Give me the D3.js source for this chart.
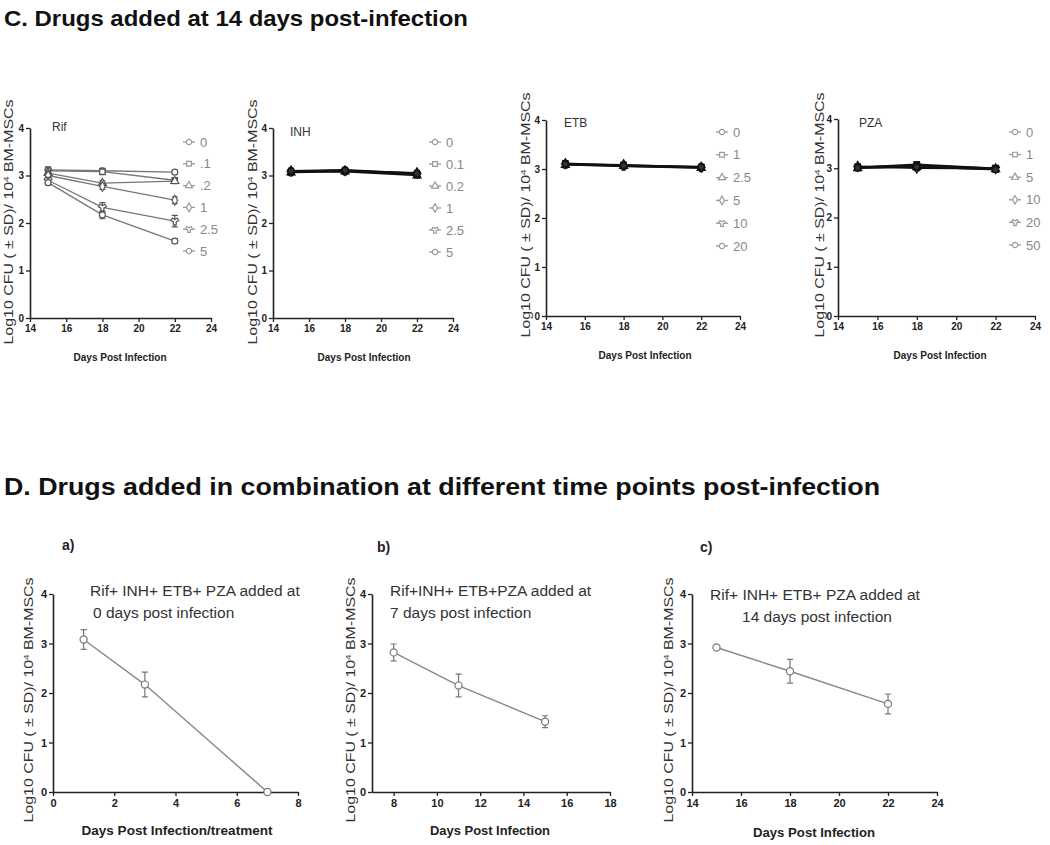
<!DOCTYPE html>
<html>
<head>
<meta charset="utf-8">
<script src="https://cdn.jsdelivr.net/npm/d3@7"></script>
<style>
  body { margin: 0; background: #fff; }
  svg text { font-family: "Liberation Sans", Arial, sans-serif; }
</style>
</head>
<body>
<svg id="chart" width="1050" height="845"></svg>
<script>
// ---- data ----
const daysC = [15, 18, 22];

const rifDoses = ['0', '.1', '.2', '1', '2.5', '5'];
const rifValues = [
  [3.12, 3.10, 3.07],
  [3.10, 3.08, 2.90],
  [3.05, 2.84, 2.88],
  [3.00, 2.77, 2.48],
  [2.90, 2.33, 2.04],
  [2.85, 2.17, 1.62]
];
const rifErr = [
  [0.06, 0.05, 0.04],
  [0.05, 0.06, 0.05],
  [0.06, 0.05, 0.05],
  [0.05, 0.06, 0.07],
  [0.06, 0.10, 0.12],
  [0.05, 0.08, 0.05]
];

const inhDoses = ['0', '0.1', '0.2', '1', '2.5', '5'];
const inhValues = [
  [3.10, 3.12, 3.05],
  [3.08, 3.10, 3.02],
  [3.06, 3.08, 3.00],
  [3.10, 3.10, 3.06],
  [3.07, 3.09, 3.03],
  [3.09, 3.11, 3.04]
];

const etbDoses = ['0', '1', '2.5', '5', '10', '20'];
const etbValues = [
  [3.12, 3.08, 3.05],
  [3.10, 3.07, 3.03],
  [3.08, 3.06, 3.02],
  [3.11, 3.09, 3.04],
  [3.09, 3.05, 3.02],
  [3.10, 3.07, 3.04]
];

const pzaDoses = ['0', '1', '5', '10', '20', '50'];
const pzaValues = [
  [3.03, 3.05, 2.99],
  [3.02, 3.08, 3.00],
  [3.00, 3.02, 2.98],
  [3.04, 3.00, 2.99],
  [3.02, 3.06, 3.00],
  [3.01, 3.03, 2.97]
];

const comboDaysA = [1, 3, 7];
const comboValuesA = [3.08, 2.17, 0];
const comboErrA = [0.2, 0.25, 0];

const comboDaysB = [8, 11, 15];
const comboValuesB = [2.82, 2.15, 1.42];
const comboErrB = [0.17, 0.23, 0.12];

const comboDaysC = [15, 18, 22];
const comboValuesC = [2.92, 2.44, 1.78];
const comboErrC = [0.04, 0.24, 0.2];

const yTicks = [0, 1, 2, 3, 4];
const xTicksC = [14, 16, 18, 20, 22, 24];
const xTicksA = [0, 2, 4, 6, 8];
const xTicksB = [8, 10, 12, 14, 16, 18];

const symbolTypes = [d3.symbolCircle, d3.symbolSquare, d3.symbolTriangle,
  d3.symbolDiamond, d3.symbolWye, d3.symbolCircle];

const svg = d3.select('#chart');
const yTitle = 'Log10 CFU ( \u00b1 SD)/ 10';

/**
 * one small panel: axes, titles, series lines with markers and error bars
 * cfg - box and style for the panel
 * series - array of {values, err}
 */
function drawPanel(cfg, days, series) {
  const g = svg.append('g');
  const x = d3.scaleLinear().domain(cfg.xDomain).range([cfg.left, cfg.right]);
  const y = d3.scaleLinear().domain([0, 4]).range([cfg.bottom, cfg.top]);

  const xAxis = g.append('g')
    .attr('transform', `translate(0,${cfg.bottom})`)
    .call(d3.axisBottom(x).tickValues(cfg.xTicks).tickFormat(d3.format('d'))
      .tickSize(4).tickSizeOuter(0).tickPadding(3));
  const yAxis = g.append('g')
    .attr('transform', `translate(${cfg.left},0)`)
    .call(d3.axisLeft(y).tickValues(yTicks).tickFormat(d3.format('d'))
      .tickSize(4).tickSizeOuter(0).tickPadding(2));
  [xAxis, yAxis].forEach(a => {
    a.select('.domain').attr('stroke', '#222').attr('stroke-width', 1.6);
    a.selectAll('.tick line').attr('stroke', '#222').attr('stroke-width', 1.3);
    a.selectAll('.tick text')
      .attr('fill', '#222')
      .style('font-size', `${cfg.tickSize}px`)
      .style('font-weight', 'bold');
  });

  // axis titles
  g.append('text')
    .attr('x', cfg.xTitleX)
    .attr('y', cfg.xTitleY)
    .attr('text-anchor', 'middle')
    .attr('textLength', cfg.xTitleLen)
    .attr('lengthAdjust', 'spacingAndGlyphs')
    .style('font-size', `${cfg.titleSize}px`)
    .style('font-weight', 'bold')
    .attr('fill', '#222')
    .text(cfg.xTitle);

  const yt = g.append('text')
    .attr('transform', `translate(${cfg.yTitleX},${cfg.yTitleY}) rotate(-90)`)
    .attr('text-anchor', 'middle')
    .attr('textLength', 245)
    .attr('lengthAdjust', 'spacingAndGlyphs')
    .style('font-size', '13px')
    .attr('fill', '#333');
  yt.append('tspan').text(yTitle);
  yt.append('tspan').attr('dy', -4).style('font-size', '8px').text('4');
  yt.append('tspan').attr('dy', 4).text(' BM-MSCs');

  const line = d3.line().x((d, i) => x(days[i])).y(d => y(d));

  series.forEach(s => {
    g.append('path')
      .attr('d', line(s.values))
      .attr('fill', 'none')
      .attr('stroke', cfg.lineColor)
      .attr('stroke-width', cfg.lineWidth);
  });

  series.forEach((s, si) => {
    s.values.forEach((v, i) => {
      const e = s.err ? s.err[i] : 0.05;
      const cx = x(days[i]);
      if (e > 0) {
        g.append('path')
          .attr('d', `M${cx},${y(v - e)}V${y(v + e)}M${cx - 3},${y(v - e)}h6M${cx - 3},${y(v + e)}h6`)
          .attr('stroke', cfg.markColor)
          .attr('stroke-width', 1.2)
          .attr('fill', 'none');
      }
      g.append('path')
        .attr('transform', `translate(${cx},${y(v)})`)
        .attr('d', d3.symbol().type(cfg.symbols ? symbolTypes[si] : d3.symbolCircle).size(cfg.markSize)())
        .attr('fill', cfg.markFill)
        .attr('stroke', cfg.markColor)
        .attr('stroke-width', 1.2);
    });
  });

  // legend
  if (cfg.legend) {
    const lg = g.append('g');
    cfg.legend.forEach((lab, i) => {
      const ly = cfg.legY + i * cfg.legStep;
      lg.append('line')
        .attr('x1', cfg.legX - 6).attr('x2', cfg.legX + 6)
        .attr('y1', ly).attr('y2', ly)
        .attr('stroke', '#999').attr('stroke-width', 1.3);
      lg.append('path')
        .attr('transform', `translate(${cfg.legX},${ly})`)
        .attr('d', d3.symbol().type(symbolTypes[i]).size(22)())
        .attr('fill', '#fff')
        .attr('stroke', '#999')
        .attr('stroke-width', 1.2);
      lg.append('text')
        .attr('x', cfg.legX + 11)
        .attr('y', ly + 4.5)
        .attr('fill', '#888')
        .style('font-size', '13px')
        .text(lab);
    });
  }

  // panel label / annotation
  (cfg.notes || []).forEach(n => {
    g.append('text')
      .attr('x', n.x)
      .attr('y', n.y)
      .attr('text-anchor', n.anchor || 'start')
      .attr('fill', n.color || '#333')
      .style('font-size', `${n.size}px`)
      .style('font-weight', n.bold ? 'bold' : 'normal')
      .text(n.text);
  });
}

const toSeries = (vals, errs) => vals.map((v, i) => ({values: v, err: errs ? errs[i] : null}));

const cBase = {
  xDomain: [14, 24], xTicks: xTicksC, tickSize: 10, titleSize: 11,
  xTitle: 'Days Post Infection', xTitleLen: 93, yTitleY: 222,
  symbols: true, markSize: 28
};

drawPanel(Object.assign({}, cBase, {
  left: 30, right: 211, top: 128, bottom: 318,
  xTitleX: 120, xTitleY: 361, yTitleX: 13,
  lineColor: '#777', lineWidth: 1.3, markColor: '#555', markFill: '#fff',
  legend: rifDoses, legX: 189, legY: 142, legStep: 21.8,
  notes: [{x: 52, y: 131, text: 'Rif', size: 12}]
}), daysC, toSeries(rifValues, rifErr));

drawPanel(Object.assign({}, cBase, {
  left: 273, right: 453, top: 128, bottom: 318,
  xTitleX: 364, xTitleY: 361, yTitleX: 257,
  lineColor: '#111', lineWidth: 1.4, markColor: '#111', markFill: '#333',
  legend: inhDoses, legX: 435, legY: 142, legStep: 22,
  notes: [{x: 290, y: 136, text: 'INH', size: 12}]
}), daysC, toSeries(inhValues));

drawPanel(Object.assign({}, cBase, {
  left: 546, right: 740, top: 120, bottom: 316,
  xTitleX: 645, xTitleY: 359, yTitleX: 530, yTitleY: 215,
  lineColor: '#111', lineWidth: 1.4, markColor: '#111', markFill: '#333',
  legend: etbDoses, legX: 722, legY: 132, legStep: 22.8,
  notes: [{x: 564, y: 127, text: 'ETB', size: 12}]
}), daysC, toSeries(etbValues));

drawPanel(Object.assign({}, cBase, {
  left: 838, right: 1035, top: 119, bottom: 316,
  xTitleX: 940, xTitleY: 359, yTitleX: 824, yTitleY: 215,
  lineColor: '#111', lineWidth: 1.4, markColor: '#111', markFill: '#333',
  legend: pzaDoses, legX: 1015, legY: 132, legStep: 22.6,
  notes: [{x: 859, y: 127, text: 'PZA', size: 12}]
}), daysC, toSeries(pzaValues));

const dBase = {
  tickSize: 11, titleSize: 13, symbols: false, markSize: 40,
  lineColor: '#888', lineWidth: 1.4, markColor: '#777', markFill: '#fff',
  top: 594, bottom: 792, yTitleY: 700
};

drawPanel(Object.assign({}, dBase, {
  left: 53, right: 298, xDomain: [0, 8], xTicks: xTicksA,
  xTitle: 'Days Post Infection/treatment', xTitleLen: 191, xTitleX: 177, xTitleY: 835, yTitleX: 33,
  notes: [
    {x: 62, y: 550, text: 'a)', size: 14, bold: true, color: '#222'},
    {x: 90, y: 596, text: 'Rif+ INH+ ETB+ PZA added at', size: 15.5},
    {x: 93, y: 618, text: '0 days post infection', size: 15.5}
  ]
}), comboDaysA, [{values: comboValuesA, err: comboErrA}]);

drawPanel(Object.assign({}, dBase, {
  left: 372, right: 610, xDomain: [7, 18], xTicks: xTicksB,
  xTitle: 'Days Post Infection', xTitleLen: 120, xTitleX: 490, xTitleY: 835, yTitleX: 355,
  notes: [
    {x: 377, y: 552, text: 'b)', size: 14, bold: true, color: '#222'},
    {x: 390, y: 596, text: 'Rif+INH+ ETB+PZA added at', size: 15.5},
    {x: 390, y: 618, text: '7 days post infection', size: 15.5}
  ]
}), comboDaysB, [{values: comboValuesB, err: comboErrB}]);

drawPanel(Object.assign({}, dBase, {
  left: 692, right: 937, xDomain: [14, 24], xTicks: xTicksC,
  xTitle: 'Days Post Infection', xTitleLen: 122, xTitleX: 814, xTitleY: 837, yTitleX: 673,
  notes: [
    {x: 700, y: 552, text: 'c)', size: 14, bold: true, color: '#222'},
    {x: 815, y: 600, text: 'Rif+ INH+ ETB+ PZA added at', size: 15.5, anchor: 'middle'},
    {x: 817, y: 622, text: '14 days post infection', size: 15.5, anchor: 'middle'}
  ]
}), comboDaysC, [{values: comboValuesC, err: comboErrC}]);

// section headings
svg.append('text')
  .attr('x', 4).attr('y', 26)
  .attr('textLength', 464).attr('lengthAdjust', 'spacingAndGlyphs')
  .style('font-size', '22px').style('font-weight', 'bold').attr('fill', '#111')
  .text('C. Drugs added at 14 days post-infection');

svg.append('text')
  .attr('x', 4).attr('y', 495)
  .attr('textLength', 876).attr('lengthAdjust', 'spacingAndGlyphs')
  .style('font-size', '23px').style('font-weight', 'bold').attr('fill', '#111')
  .text('D. Drugs added in combination at different time points post-infection');
</script>
</body>
</html>
